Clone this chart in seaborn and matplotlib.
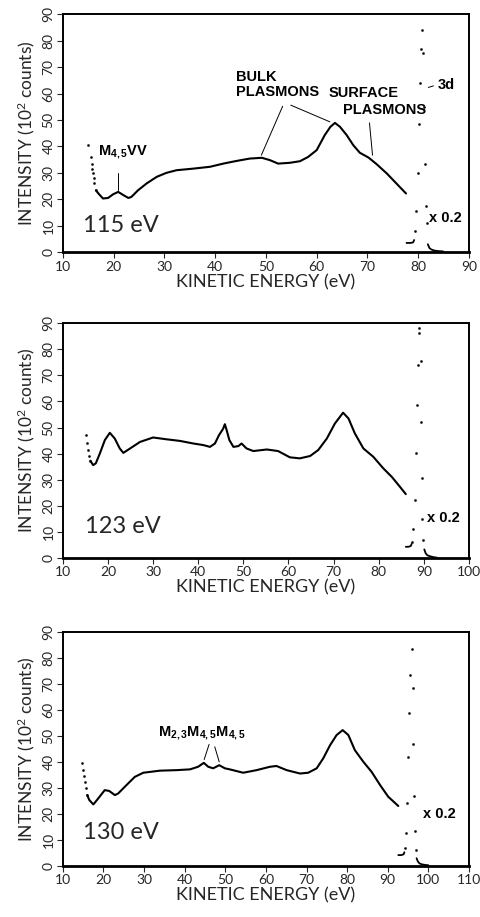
import matplotlib
matplotlib.use("Agg")
import matplotlib.pyplot as plt
import seaborn as sns

# ---- 115 eV spectrum ----
lead1_x = [15.0, 15.5, 15.7, 15.8, 16.0, 16.1, 16.2, 16.5]
lead1_y = [40.5, 36.0, 33.5, 31.6, 29.8, 27.9, 26.0, 23.4]
curve1_x = [16.5, 17.0, 17.9, 18.9, 19.9, 20.9, 21.9, 22.9, 23.5, 24.8, 26.5, 28.5, 30.4, 32.4,
            35.7, 39.0, 41.6, 44.2, 46.8, 49.2, 50.8, 52.4, 54.7, 56.7, 58.3, 60.0, 61.6, 62.7,
            63.6, 64.6, 65.9, 67.2, 68.5, 70.2, 71.8, 73.8, 75.7, 77.6]
curve1_y = [23.4, 22.2, 20.3, 20.5, 21.9, 22.8, 21.6, 20.5, 20.9, 23.4, 26.0, 28.5, 30.0, 31.0,
            31.6, 32.3, 33.5, 34.5, 35.4, 35.7, 34.8, 33.5, 33.8, 34.4, 36.0, 38.6, 44.3, 47.4,
            48.9, 47.4, 44.3, 40.5, 37.6, 35.8, 33.3, 29.8, 26.0, 22.2]
peak1_x = [80.8, 80.6, 81.0, 80.3, 81.2, 80.1, 81.3, 79.9, 81.5, 79.6, 81.7, 79.3]
peak1_y = [84.0, 76.7, 75.5, 64.0, 54.9, 48.4, 33.3, 30.1, 17.5, 15.5, 11.2, 7.9]
base1_x = [77.7, 78.5, 79.0, 79.2]
base1_y = [3.5, 3.5, 3.7, 4.6]
tail1_x = [81.9, 82.2, 82.6, 83.2, 84.0, 84.9]
tail1_y = [3.0, 1.6, 1.0, 0.6, 0.4, 0.3]

# ---- 123 eV spectrum ----
lead2_x = [15.1, 15.4, 15.6, 15.8, 16.1]
lead2_y = [47.1, 43.9, 41.4, 39.1, 37.3]
curve2_x = [16.1, 16.7, 17.3, 18.2, 19.3, 20.4, 21.5, 22.6, 23.4, 24.9, 27.1, 30.0, 33.0, 35.9,
            38.9, 41.1, 42.6, 43.7, 44.6, 45.5, 45.9, 46.3, 46.9, 47.8, 48.9, 49.6, 50.7, 52.2,
            55.2, 57.7, 60.3, 62.5, 64.8, 66.6, 68.5, 70.3, 72.1, 73.3, 74.7, 76.6, 78.8, 81.0,
            82.9, 84.7, 86.0]
curve2_y = [37.3, 35.6, 36.3, 40.1, 45.2, 48.0, 45.8, 42.0, 40.3, 42.0, 44.5, 46.2, 45.5, 44.9,
            43.9, 43.3, 42.6, 43.9, 47.1, 49.5, 51.3, 49.0, 45.2, 42.6, 42.9, 43.9, 42.0, 41.0,
            41.6, 41.0, 38.6, 38.2, 39.1, 41.4, 45.8, 51.6, 55.7, 53.5, 47.8, 42.0, 38.8, 34.4,
            31.1, 27.3, 24.5]
peak2_x = [89.0, 88.9, 89.3, 88.6, 88.4, 89.4, 88.2, 89.6, 88.0, 89.7, 87.7, 89.9, 87.4]
peak2_y = [88.0, 86.4, 75.5, 73.9, 58.6, 52.2, 40.1, 30.8, 22.2, 14.9, 11.0, 6.9, 6.2]
base2_x = [86.0, 86.6, 87.1, 87.3]
base2_y = [4.3, 4.3, 4.6, 5.4]
tail2_x = [90.1, 90.4, 90.8, 91.5, 92.2, 93.0]
tail2_y = [3.3, 1.8, 1.0, 0.6, 0.3, 0.1]

# ---- 130 eV spectrum ----
lead3_x = [14.8, 15.0, 15.2, 15.4, 15.7, 16.0]
lead3_y = [39.7, 36.9, 34.6, 32.4, 29.9, 27.3]
curve3_x = [16.0, 16.5, 17.5, 18.7, 20.3, 21.4, 22.8, 23.6, 25.7, 27.7, 29.8, 33.9, 38.0, 41.3,
            43.3, 44.7, 45.8, 47.0, 48.5, 49.9, 51.1, 54.4, 57.7, 61.0, 62.6, 65.1, 68.4, 70.4,
            72.5, 74.1, 75.8, 77.4, 78.9, 80.3, 81.9, 84.0, 86.0, 88.1, 90.1, 92.6]
curve3_y = [27.3, 25.4, 23.7, 26.0, 29.2, 28.9, 27.3, 27.9, 31.2, 34.3, 35.9, 36.7, 36.9, 37.2,
            38.2, 39.7, 38.2, 37.6, 38.8, 37.6, 37.2, 35.9, 36.9, 38.2, 38.5, 36.9, 35.6, 35.9,
            37.6, 41.4, 46.5, 50.4, 52.3, 50.4, 44.6, 40.1, 36.3, 31.2, 26.7, 23.1]
peak3_x = [95.9, 95.5, 96.1, 95.3, 96.3, 95.0, 96.5, 94.8, 96.7, 94.5, 96.9, 94.2]
peak3_y = [83.7, 73.5, 68.7, 59.0, 46.8, 41.8, 27.0, 24.1, 13.5, 12.6, 6.2, 6.8]
base3_x = [92.6, 93.3, 93.9, 94.1]
base3_y = [4.2, 4.2, 4.5, 5.3]
tail3_x = [97.1, 97.4, 97.8, 98.5, 99.3, 100.0]
tail3_y = [3.0, 1.8, 1.0, 0.6, 0.4, 0.3]

xmax = [90, 100, 110]
energies = ["115 eV", "123 eV", "130 eV"]

sns.set_style("ticks")
plt.rcParams["font.family"] = ["Lato", "DejaVu Sans"]
plt.rcParams["axes.linewidth"] = 1.4
plt.rcParams["mathtext.default"] = "regular"

fig = plt.figure(figsize=(4.8, 9.17), dpi=100)
boxes = [[0.131, 0.725, 0.846, 0.2595],
         [0.131, 0.3915, 0.846, 0.256],
         [0.131, 0.0556, 0.846, 0.255]]
axes = [fig.add_axes(b) for b in boxes]

panels = [
    (lead1_x, lead1_y, curve1_x, curve1_y, peak1_x, peak1_y, base1_x, base1_y, tail1_x, tail1_y),
    (lead2_x, lead2_y, curve2_x, curve2_y, peak2_x, peak2_y, base2_x, base2_y, tail2_x, tail2_y),
    (lead3_x, lead3_y, curve3_x, curve3_y, peak3_x, peak3_y, base3_x, base3_y, tail3_x, tail3_y),
]

lbl = dict(family=["Liberation Sans", "DejaVu Sans"], fontsize=10.5, fontweight="bold",
           color="black")

for i, ax in enumerate(axes):
    lx, ly, cx, cy, px, py, bx, by, tx, ty = panels[i]
    sns.lineplot(x=cx, y=cy, ax=ax, color="black", linewidth=1.5, sort=False, estimator=None)
    sns.lineplot(x=bx, y=by, ax=ax, color="black", linewidth=1.3, sort=False, estimator=None)
    sns.lineplot(x=tx, y=ty, ax=ax, color="black", linewidth=1.3, sort=False, estimator=None)
    sns.scatterplot(x=lx, y=ly, ax=ax, color="black", s=3, edgecolor=None)
    sns.scatterplot(x=px, y=py, ax=ax, color="black", s=3, edgecolor=None)

    ax.set_xlim(10, xmax[i])
    ax.set_ylim(0, 90)
    ax.set_xticks(range(10, xmax[i] + 1, 10))
    ax.set_yticks(range(0, 91, 10))
    ax.tick_params(axis="both", direction="out", length=4, width=0.8, labelsize=10, pad=2)
    for t in ax.get_yticklabels():
        t.set_rotation(90)
        t.set_va("center")
    for s in ax.spines.values():
        s.set_visible(True)
        s.set_color("black")
    ax.spines["bottom"].set_linewidth(2.0)
    ax.set_xlabel("KINETIC ENERGY (eV)", fontsize=13, labelpad=1)
    ax.set_ylabel("INTENSITY (10$^2$ counts)", fontsize=12.5, labelpad=4)
    ax.text(13.9 if i == 0 else 15.0, [10.2, 11.9, 13.0][i], energies[i], fontsize=17,
            va="center", ha="left")

# panel 1 annotations
a = axes[0]
a.text(16.9, 37.8, "M$_{4,5}$VV", va="center", ha="left", **lbl)
a.plot([20.9, 20.9], [30.0, 23.4], color="black", lw=0.7)
a.text(44.1, 68.8, "BULK\nPLASMONS", va="top", ha="left", linespacing=1.1, **lbl)
a.text(62.4, 62.8, "SURFACE", va="top", ha="left", **lbl)
a.text(65.2, 56.5, "PLASMONS", va="top", ha="left", **lbl)
a.plot([53.3, 49.1], [55.2, 36.7], color="black", lw=0.7)
a.plot([54.9, 62.6], [55.6, 49.3], color="black", lw=0.7)
a.plot([70.4, 71.0], [48.9, 36.7], color="black", lw=0.7)
a.text(83.9, 63.2, "3d", va="center", ha="left", **lbl)
a.plot([82.0, 83.0], [62.3, 62.9], color="black", lw=0.7)
a.text(82.1, 13.0, "x 0.2", va="center", ha="left", **lbl)

# panel 2 annotations
axes[1].text(90.7, 15.3, "x 0.2", va="center", ha="left", **lbl)

# panel 3 annotations
b = axes[2]
b.text(33.4, 51.0, "M$_{2,3}$M$_{4,5}$M$_{4,5}$", va="center", ha="left", **lbl)
b.plot([46.0, 44.8], [46.8, 41.0], color="black", lw=0.7)
b.plot([47.4, 48.5], [45.9, 40.1], color="black", lw=0.7)
b.text(98.7, 20.0, "x 0.2", va="center", ha="left", **lbl)

fig.savefig("out.png", dpi=100)
